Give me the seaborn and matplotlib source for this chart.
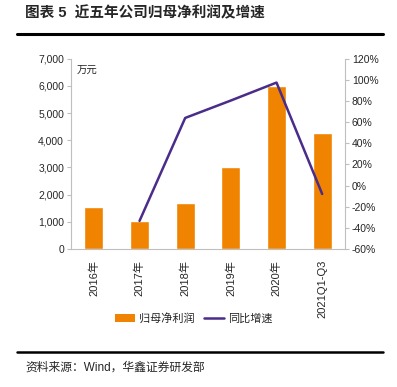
import numpy as np
import pandas as pd
import seaborn as sns
import matplotlib.pyplot as plt
from matplotlib.patches import Patch
from matplotlib.lines import Line2D

# data
periods = ["2016年", "2017年", "2018年", "2019年", "2020年", "2021Q1-Q3"]
net_profit = [1550, 1030, 1680, 3030, 6010, 4280]          # 万元
growth = [np.nan, -33.5, 64.0, 80.5, 97.5, -8.0]           # %

bar_color = "#F08300"
line_color = "#4A2C8A"
spine_color = "#BFBFBF"

sns.set_theme(style="white")
plt.rcParams["font.family"] = ["Liberation Sans", "Noto Sans CJK SC", "DejaVu Sans"]

df = pd.DataFrame({"period": periods, "profit": net_profit, "growth": growth})
df["pos"] = np.arange(len(df))

fig = plt.figure(figsize=(3.97, 3.87), dpi=100)
ax = fig.add_axes([0.179, 0.357, 0.690, 0.491])

sns.barplot(data=df, x="period", y="profit", color=bar_color, width=0.42,
            saturation=1, ax=ax)
ax.set_ylim(0, 7000)
ax.set_yticks(range(0, 7001, 1000))
ax.set_yticklabels([f"{v:,}" for v in range(0, 7001, 1000)], fontsize=7.5)
ax.set_xlabel(""); ax.set_ylabel("")
ax.set_xlim(-0.5, len(df) - 0.5)
ax.set_xticks(df["pos"])
ax.set_xticklabels(periods, rotation=90, fontsize=8)
ax.set_xticks(np.arange(-0.5, len(df), 1), minor=True)
ax.tick_params(axis="x", which="major", length=0, pad=8)
ax.tick_params(axis="x", which="minor", length=3, color=spine_color, width=0.8)
ax.tick_params(axis="y", length=3, color=spine_color, width=0.8, left=True, pad=2)
for s in ["top", "right"]:
    ax.spines[s].set_visible(False)
for s in ["left", "bottom"]:
    ax.spines[s].set_color(spine_color)
    ax.spines[s].set_linewidth(0.8)
ax.text(0.02, 0.965, "万元", transform=ax.transAxes, fontsize=7.5, va="top", ha="left")

ax2 = ax.twinx()
sns.lineplot(data=df, x="pos", y="growth", color=line_color, linewidth=1.8, ax=ax2)
ax2.set_ylim(-60, 120)
ax2.set_yticks(range(-60, 121, 20))
ax2.set_yticklabels([f"{v}%" for v in range(-60, 121, 20)], fontsize=7.5)
ax2.set_ylabel(""); ax2.set_xlabel("")
ax2.set_xlim(-0.5, len(df) - 0.5)
ax2.tick_params(axis="y", length=3, color=spine_color, width=0.8, right=True, pad=2)
for s in ["top", "left", "bottom"]:
    ax2.spines[s].set_visible(False)
ax2.spines["right"].set_color(spine_color)
ax2.spines["right"].set_linewidth(0.8)

handles = [Patch(facecolor=bar_color, edgecolor="none"),
           Line2D([0], [0], color=line_color, linewidth=1.8)]
fig.legend(handles, ["归母净利润", "同比增速"], loc="center",
           bbox_to_anchor=(0.488, 0.178), ncol=2, frameon=False, fontsize=8,
           handlelength=1.8, handletextpad=0.3, columnspacing=0.9)

# header / footer
fig.text(0.063, 0.966, "图表 5  近五年公司归母净利润及增速", fontsize=10.5,
         fontweight="bold", va="center", ha="left")
fig.add_artist(Line2D([0.043, 0.965], [0.912, 0.912], color="black", linewidth=2.2))
fig.add_artist(Line2D([0.043, 0.965], [0.090, 0.090], color="black", linewidth=1.8))
fig.text(0.063, 0.050, "资料来源：Wind，华鑫证券研发部", fontsize=8.5, va="center", ha="left")

fig.savefig("out.png", dpi=100)
